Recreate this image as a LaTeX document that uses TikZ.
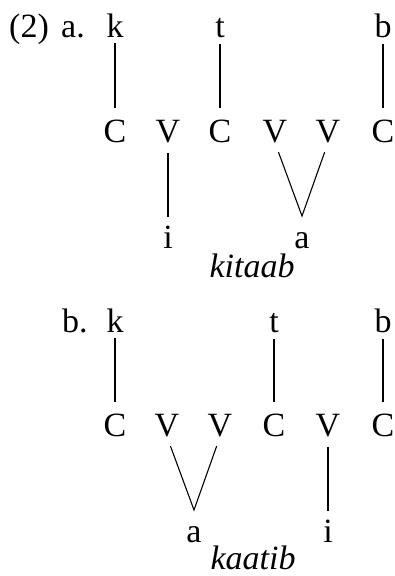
\documentclass[tikz,border=0pt]{standalone}
\usepackage{fontspec}
\setmainfont{Liberation Serif}
\begin{document}
\begin{tikzpicture}[x=1pt,y=-1pt,
  lab/.style={anchor=base,inner sep=0pt,font=\fontsize{34}{40}\selectfont},
  wd/.style={anchor=base,inner sep=0pt,font=\fontsize{34}{40}\selectfont\itshape},
  assoc/.style={line width=1.1pt,shorten <=6pt,shorten >=11pt},
  down/.style={line width=1.1pt,shorten <=10pt,shorten >=8pt},
  fork/.style={line width=1.1pt,shorten <=10pt,shorten >=10pt}]
\useasboundingbox (0,0) rectangle (395,576);
% ---- (2) a.
\node[lab,anchor=base west] (num) at (9,37) {(2)};
\node[lab,anchor=base west] (la) at (61,37) {a.};
\node[lab] (ak) at (115,37) {k};
\node[lab] (at) at (220,37) {t};
\node[lab] (ab) at (383,37) {b};
\node[lab] (aC1) at (115,142) {C};
\node[lab] (aV1) at (168,142) {V};
\node[lab] (aC2) at (220,142) {C};
\node[lab] (aV2) at (275,142) {V};
\node[lab] (aV3) at (328,142) {V};
\node[lab] (aC3) at (383,142) {C};
\node[lab] (ai) at (168,248) {i};
\node[lab] (aa) at (302,248) {a};
\node[wd] (kitaab) at (252,277) {kitaab};
\coordinate (apA) at (302,216);
\draw[assoc] (ak.south) -- (aC1.north);
\draw[assoc] (at.south) -- (aC2.north);
\draw[assoc] (ab.south) -- (aC3.north);
\draw[down] (aV1.south) -- (ai.north);
\draw[fork] (aV2.south) -- (apA) -- (aV3.south);
% ---- b.
\node[lab,anchor=base west] (lb) at (62,332) {b.};
\node[lab] (bk) at (115,332) {k};
\node[lab] (bt) at (274,332) {t};
\node[lab] (bb) at (383,332) {b};
\node[lab] (bC1) at (115,436) {C};
\node[lab] (bV1) at (167,436) {V};
\node[lab] (bV2) at (220,436) {V};
\node[lab] (bC2) at (274,436) {C};
\node[lab] (bV3) at (328,436) {V};
\node[lab] (bC3) at (383,436) {C};
\node[lab] (ba) at (194,542) {a};
\node[lab] (bi) at (328,542) {i};
\node[wd] (kaatib) at (253,569) {kaatib};
\coordinate (apB) at (194,510);
\draw[assoc] (bk.south) -- (bC1.north);
\draw[assoc] (bt.south) -- (bC2.north);
\draw[assoc] (bb.south) -- (bC3.north);
\draw[down] (bV3.south) -- (bi.north);
\draw[fork] (bV1.south) -- (apB) -- (bV2.south);
\end{tikzpicture}
\end{document}
